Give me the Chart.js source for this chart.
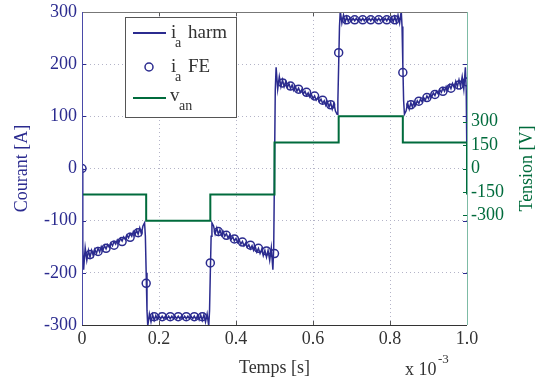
<!DOCTYPE html>
<html>
<head>
<meta charset="utf-8">
<script src="https://cdn.jsdelivr.net/npm/chart.js@4.4.1/dist/chart.umd.min.js"></script>
<style>
  html, body { margin: 0; padding: 0; background: #fff; }
  #wrap { width: 539px; height: 380px; }
</style>
</head>
<body>
<div id="wrap"><canvas id="courantChart" width="539" height="380"></canvas></div>
<script>
// temps en ms (axe affiché x 10^-3 s)
const harmTime = [
  0, 0.002, 0.0042, 0.0083, 0.0125, 0.0167, 0.0208, 0.025, 0.0292, 0.0333, 0.0375, 0.0417, 0.0458, 0.05, 0.0542,
  0.0583, 0.0625, 0.0667, 0.0708, 0.075, 0.0792, 0.0833, 0.0875, 0.0917, 0.0958, 0.1, 0.1042, 0.1083, 0.1125,
  0.1167, 0.1208, 0.125, 0.1292, 0.1333, 0.1375, 0.1417, 0.1458, 0.15, 0.1542, 0.1583, 0.1625, 0.1646,
  0.1667, 0.1688, 0.1708, 0.175, 0.1792, 0.1833, 0.1875, 0.1917, 0.1958, 0.2, 0.2042, 0.2083, 0.2125, 0.2167,
  0.2208, 0.225, 0.2292, 0.2333, 0.2375, 0.2417, 0.2458, 0.25, 0.2542, 0.2583, 0.2625, 0.2667, 0.2708, 0.275,
  0.2792, 0.2833, 0.2875, 0.2917, 0.2958, 0.3, 0.3042, 0.3083, 0.3125, 0.3167, 0.3208, 0.325, 0.3292, 0.3313,
  0.3333, 0.3354, 0.3375, 0.3417, 0.3458, 0.35, 0.3542, 0.3583, 0.3625, 0.3667, 0.3708, 0.375, 0.3792, 0.3833,
  0.3875, 0.3917, 0.3958, 0.4, 0.4042, 0.4083, 0.4125, 0.4167, 0.4208, 0.425, 0.4292, 0.4333, 0.4375, 0.4417,
  0.4458, 0.45, 0.4542, 0.4583, 0.4625, 0.4667, 0.4708, 0.475, 0.4792, 0.4833, 0.4875, 0.4917, 0.4958, 0.498,
  0.5, 0.502, 0.5042, 0.5083, 0.5125, 0.5167, 0.5208, 0.525, 0.5292, 0.5333, 0.5375, 0.5417, 0.5458, 0.55, 0.5542,
  0.5583, 0.5625, 0.5667, 0.5708, 0.575, 0.5792, 0.5833, 0.5875, 0.5917, 0.5958, 0.6, 0.6042, 0.6083, 0.6125,
  0.6167, 0.6208, 0.625, 0.6292, 0.6333, 0.6375, 0.6417, 0.6458, 0.65, 0.6542, 0.6583, 0.6625, 0.6646,
  0.6667, 0.6688, 0.6708, 0.675, 0.6792, 0.6833, 0.6875, 0.6917, 0.6958, 0.7, 0.7042, 0.7083, 0.7125, 0.7167,
  0.7208, 0.725, 0.7292, 0.7333, 0.7375, 0.7417, 0.7458, 0.75, 0.7542, 0.7583, 0.7625, 0.7667, 0.7708, 0.775,
  0.7792, 0.7833, 0.7875, 0.7917, 0.7958, 0.8, 0.8042, 0.8083, 0.8125, 0.8167, 0.8208, 0.825, 0.8292, 0.8313,
  0.8333, 0.8354, 0.8375, 0.8417, 0.8458, 0.85, 0.8542, 0.8583, 0.8625, 0.8667, 0.8708, 0.875, 0.8792, 0.8833,
  0.8875, 0.8917, 0.8958, 0.9, 0.9042, 0.9083, 0.9125, 0.9167, 0.9208, 0.925, 0.9292, 0.9333, 0.9375, 0.9417,
  0.9458, 0.95, 0.9542, 0.9583, 0.9625, 0.9667, 0.9708, 0.975, 0.9792, 0.9833, 0.9875, 0.9917, 0.9958, 0.998, 1
];
const harmCurrent = [
  0, -150, -194, -152, -176, -157, -170, -157, -167, -155, -163, -153, -160, -150, -157,
  -148, -154, -146, -151, -143, -148, -140, -145, -137, -142, -134, -139, -131, -136,
  -128, -133, -125, -130, -121, -128, -118, -126, -114, -125, -110, -104, -130,
  -200, -272, -302, -279, -294, -280, -291, -282, -289, -283, -288, -283, -288, -283,
  -288, -283, -288, -283, -288, -283, -288, -283, -288, -283, -288, -283, -288, -283,
  -288, -283, -288, -283, -289, -282, -290, -281, -291, -280, -294, -279, -302, -272,
  -200, -130, -104, -110, -125, -114, -126, -118, -128, -121, -130, -125, -133, -128,
  -136, -131, -139, -134, -142, -137, -145, -140, -148, -143, -151, -146, -154, -148,
  -157, -150, -160, -153, -163, -155, -167, -157, -170, -157, -176, -152, -194, -150,
  0, 150, 194, 152, 176, 157, 170, 157, 167, 155, 163, 153, 160, 150, 157,
  148, 154, 146, 151, 143, 148, 140, 145, 137, 142, 134, 139, 131, 136,
  128, 133, 125, 130, 121, 128, 118, 126, 114, 125, 110, 104, 130,
  200, 272, 302, 279, 294, 280, 291, 282, 289, 283, 288, 283, 288, 283,
  288, 283, 288, 283, 288, 283, 288, 283, 288, 283, 288, 283, 288, 283,
  288, 283, 288, 283, 289, 282, 290, 281, 291, 280, 294, 279, 302, 272,
  200, 130, 104, 110, 125, 114, 126, 118, 128, 121, 130, 125, 133, 128,
  136, 131, 139, 134, 142, 137, 145, 140, 148, 143, 151, 146, 154, 148,
  157, 150, 160, 153, 163, 155, 167, 157, 170, 157, 176, 152, 194, 150, 0
];

// résultats éléments finis (cercles)
const feTime = [
  0, 0.0208, 0.0417, 0.0625, 0.0833, 0.1042, 0.125, 0.1458, 0.1667, 0.1875, 0.2083, 0.2292, 0.25,
  0.2708, 0.2917, 0.3125, 0.3333, 0.3542, 0.375, 0.3958, 0.4167, 0.4375, 0.4583, 0.4792, 0.5,
  0.5208, 0.5417, 0.5625, 0.5833, 0.6042, 0.625, 0.6458, 0.6667, 0.6875, 0.7083, 0.7292, 0.75,
  0.7708, 0.7917, 0.8125, 0.8333, 0.8542, 0.875, 0.8958, 0.9167, 0.9375, 0.9583, 0.9792, 1
];
const feCurrent = [
  0, -165, -159, -153, -147, -140, -132, -123, -220, -284, -284, -284, -284,
  -284, -284, -284, -181, -121, -128, -135, -141, -147, -153, -158, -163,
  164, 158, 152, 146, 139, 131, 122, 222, 285, 285, 285, 285,
  285, 285, 285, 184, 122, 129, 136, 142, 148, 154, 160, 166
];

// tension de phase v_an
const vanTime = [0, 0, 0.1667, 0.1667, 0.3333, 0.3333, 0.5, 0.5, 0.6667, 0.6667, 0.8333, 0.8333, 1, 1];
const vanVoltage = [166.7, -166.7, -166.7, -333.3, -333.3, -166.7, -166.7, 166.7, 166.7, 333.3, 333.3, 166.7, 166.7, -166.7];

const voltTicks = [-300, -150, 0, 150, 300];

const BLUE = '#2b2b8f';
const GREEN = '#006b3c';
const SERIF = '"Liberation Serif", "Times New Roman", serif';

function line(ctx, x1, y1, x2, y2) {
  ctx.beginPath();
  ctx.moveTo(x1, y1);
  ctx.lineTo(x2, y2);
  ctx.stroke();
}

// cadre, graduations, légende et textes annexes
const decorPlugin = {
  id: 'decor',
  afterDatasetsDraw(chart) {
    const ctx = chart.ctx;
    const a = chart.chartArea;
    const sx = chart.scales.x, sy = chart.scales.y, sv = chart.scales.yV;
    ctx.save();
    ctx.lineWidth = 1;

    // petites graduations vers l'intérieur
    ctx.strokeStyle = '#555';
    sx.ticks.forEach(t => {
      const px = Math.round(sx.getPixelForValue(t.value)) + 0.5;
      line(ctx, px, a.bottom, px, a.bottom - 4);
      line(ctx, px, a.top, px, a.top + 4);
    });
    ctx.strokeStyle = BLUE;
    sy.ticks.forEach(t => {
      const py = Math.round(sy.getPixelForValue(t.value)) + 0.5;
      line(ctx, a.left, py, a.left + 4, py);
      line(ctx, a.right, py, a.right - 4, py);
    });
    ctx.strokeStyle = GREEN;
    sv.ticks.forEach(t => {
      const py = Math.round(sv.getPixelForValue(t.value)) + 0.5;
      line(ctx, a.right, py, a.right - 4, py);
    });

    // cadre
    ctx.strokeStyle = '#777';
    line(ctx, a.left, a.top + 0.5, a.right, a.top + 0.5);
    ctx.strokeStyle = '#333';
    line(ctx, a.left, a.bottom + 0.5, a.right, a.bottom + 0.5);
    ctx.strokeStyle = '#4a4aa8';
    line(ctx, a.left + 0.5, a.top, a.left + 0.5, a.bottom);
    ctx.strokeStyle = '#7dbba5';
    line(ctx, a.right + 0.5, a.top, a.right + 0.5, a.bottom);

    // légende
    const lx = a.left + 43, ly = a.top + 5;
    ctx.fillStyle = '#fff';
    ctx.fillRect(lx, ly, 111, 100);
    ctx.strokeStyle = '#555';
    ctx.strokeRect(lx + 0.5, ly + 0.5, 111, 100);

    ctx.lineWidth = 2;
    ctx.strokeStyle = BLUE;
    line(ctx, lx + 8, ly + 16, lx + 41, ly + 16);
    ctx.lineWidth = 1.5;
    ctx.beginPath();
    ctx.arc(lx + 24, ly + 50, 4, 0, Math.PI * 2);
    ctx.stroke();
    ctx.lineWidth = 2;
    ctx.strokeStyle = GREEN;
    line(ctx, lx + 8, ly + 81, lx + 41, ly + 81);

    ctx.fillStyle = '#333';
    ctx.textBaseline = 'alphabetic';
    ctx.textAlign = 'left';
    ctx.font = '19px ' + SERIF;
    ctx.fillText('i', lx + 46, ly + 21);
    ctx.fillText('harm', lx + 63, ly + 21);
    ctx.fillText('i', lx + 46, ly + 55);
    ctx.fillText('FE', lx + 63, ly + 55);
    ctx.fillText('v', lx + 45, ly + 84);
    ctx.font = '14px ' + SERIF;
    ctx.fillText('a', lx + 50, ly + 30);
    ctx.fillText('a', lx + 50, ly + 64);
    ctx.fillText('an', lx + 54, ly + 93);

    // titre de l'axe de droite
    ctx.fillStyle = GREEN;
    ctx.font = '18px ' + SERIF;
    ctx.translate(527, (a.top + a.bottom) / 2);
    ctx.rotate(-Math.PI / 2);
    ctx.textAlign = 'center';
    ctx.textBaseline = 'middle';
    ctx.fillText('Tension [V]', 0, 0);
    ctx.setTransform(1, 0, 0, 1, 0, 0);

    // facteur d'échelle de l'axe des temps
    ctx.fillStyle = '#333';
    ctx.textAlign = 'left';
    ctx.textBaseline = 'alphabetic';
    ctx.font = '18px ' + SERIF;
    ctx.fillText('x 10', 405, 375);
    ctx.font = '13px ' + SERIF;
    ctx.fillText('-3', 438, 363);
    ctx.restore();
  }
};

const gridColor = c => (c.index === 0 || c.index === c.scale.ticks.length - 1) ? 'rgba(0,0,0,0)' : '#b4b4c8';

// la zone de tracé est fixée à la main, comme sur la figure d'origine
const fixWidth = w => s => { s.width = w; s.paddingTop = 0; s.paddingBottom = 0; };

const ctx = document.getElementById('courantChart').getContext('2d');
new Chart(ctx, {
  type: 'line',
  data: {
    datasets: [
      {
        label: 'v_an',
        data: vanTime.map((t, i) => ({ x: t, y: vanVoltage[i] })),
        yAxisID: 'yV',
        borderColor: GREEN,
        borderWidth: 2,
        pointRadius: 0,
        tension: 0,
        order: 0
      },
      {
        label: 'i_a FE',
        data: feTime.map((t, i) => ({ x: t, y: feCurrent[i] })),
        yAxisID: 'y',
        showLine: false,
        borderColor: BLUE,
        backgroundColor: 'rgba(0,0,0,0)',
        pointRadius: 4,
        pointBorderWidth: 1.5,
        pointBorderColor: BLUE,
        pointBackgroundColor: 'rgba(0,0,0,0)',
        order: 1
      },
      {
        label: 'i_a harm',
        data: harmTime.map((t, i) => ({ x: t, y: harmCurrent[i] })),
        yAxisID: 'y',
        borderColor: BLUE,
        borderWidth: 1.5,
        pointRadius: 0,
        tension: 0,
        order: 2
      }
    ]
  },
  options: {
    responsive: false,
    devicePixelRatio: 1,
    animation: false,
    events: [],
    layout: { padding: { top: 12, left: 0, right: 0, bottom: 0 } },
    scales: {
      x: {
        type: 'linear',
        position: 'bottom',
        min: 0,
        max: 1,
        ticks: { stepSize: 0.2, color: '#333', font: { family: SERIF, size: 18 }, padding: 3, maxRotation: 0 },
        grid: { color: gridColor, drawTicks: false },
        border: { display: false, dash: [1, 3] },
        title: { display: true, text: 'Temps [s]', color: '#333', font: { family: SERIF, size: 18 }, padding: { top: 0, bottom: 1 } },
        afterFit: s => { s.height = 55; s.paddingLeft = 0; s.paddingRight = 0; }
      },
      y: {
        position: 'left',
        min: -300,
        max: 300,
        ticks: { stepSize: 100, color: BLUE, font: { family: SERIF, size: 18 }, padding: 5 },
        grid: { color: gridColor, drawTicks: false },
        border: { display: false, dash: [1, 3] },
        title: { display: true, text: 'Courant [A]', color: BLUE, font: { family: SERIF, size: 18 }, padding: { top: 11, bottom: 0 } },
        afterFit: fixWidth(82)
      },
      yV: {
        position: 'right',
        min: -1000,
        max: 1000,
        afterBuildTicks: s => { s.ticks = voltTicks.map(v => ({ value: v })); },
        ticks: { color: GREEN, font: { family: SERIF, size: 18 }, padding: 4 },
        grid: { display: false, drawTicks: false },
        border: { display: false },
        afterFit: fixWidth(72)
      }
    },
    plugins: {
      legend: { display: false },
      tooltip: { enabled: false }
    }
  },
  plugins: [decorPlugin]
});
</script>
</body>
</html>
